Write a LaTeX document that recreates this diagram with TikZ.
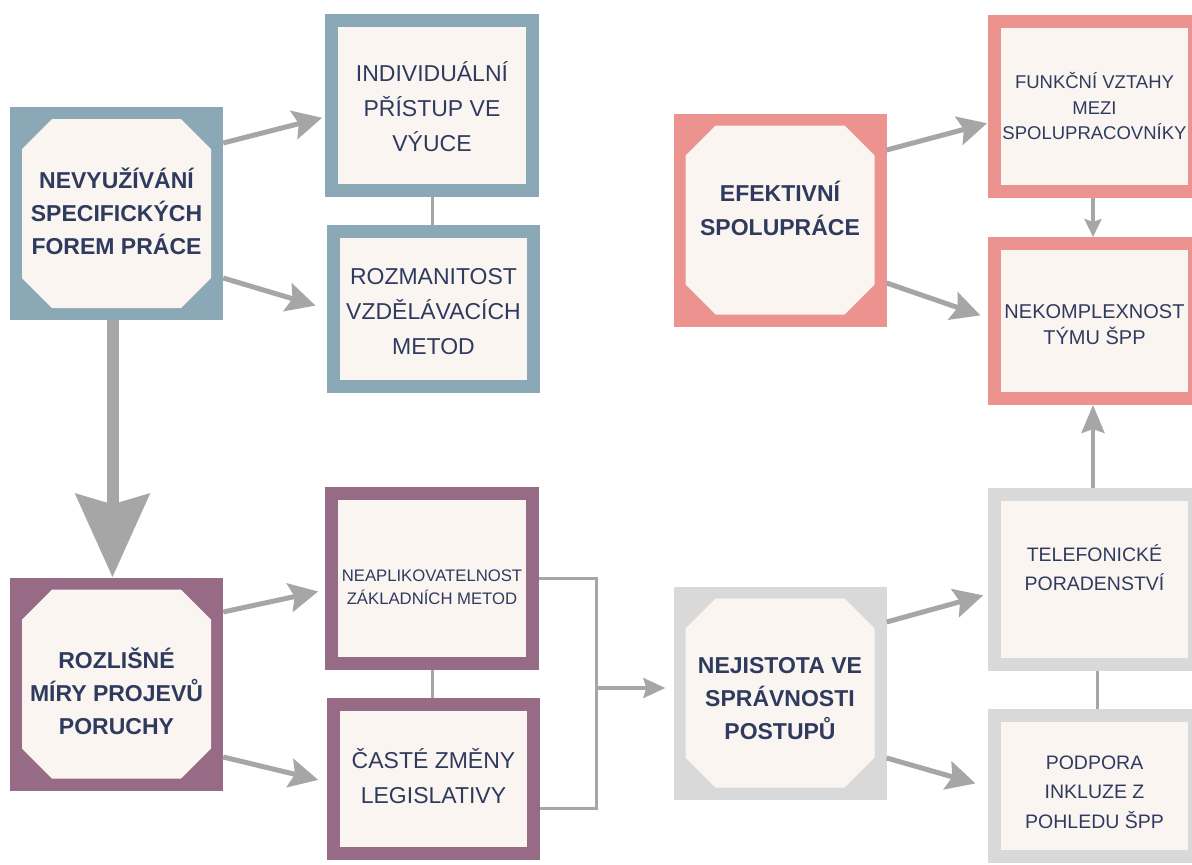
\documentclass[tikz,border=0pt]{standalone}
\usepackage{fontspec}
\setmainfont{Liberation Sans}
\usetikzlibrary{arrows.meta,calc}
\definecolor{cblue}{HTML}{8BA8B7}
\definecolor{cpurple}{HTML}{976A86}
\definecolor{cgray}{HTML}{D9D9D9}
\definecolor{cred}{HTML}{EC928F}
\definecolor{cream}{HTML}{FBF5F2}
\definecolor{navy}{HTML}{2F3B5E}
\definecolor{agray}{HTML}{A6A6A6}
\tikzset{
  octbox/.style={fill=#1, minimum width=213pt, minimum height=213pt, inner sep=0pt,
    path picture={\fill[cream]
      ([shift={(42pt,-12pt)}]path picture bounding box.north west) --
      ([shift={(-42pt,-12pt)}]path picture bounding box.north east) --
      ([shift={(-12pt,-42pt)}]path picture bounding box.north east) --
      ([shift={(-12pt,42pt)}]path picture bounding box.south east) --
      ([shift={(-42pt,12pt)}]path picture bounding box.south east) --
      ([shift={(42pt,12pt)}]path picture bounding box.south west) --
      ([shift={(12pt,42pt)}]path picture bounding box.south west) --
      ([shift={(12pt,-42pt)}]path picture bounding box.north west) -- cycle;}},
  sqbox/.style={draw=#1, fill=cream, line width=13pt, inner sep=0pt, minimum width=200pt},
  boldtxt/.style={text=navy, align=center, inner sep=0pt, font=\fontsize{23}{33}\selectfont\bfseries},
  regtxt/.style={text=navy, align=center, inner sep=0pt, font=\fontsize{23}{35}\selectfont},
  conn/.style={draw=agray, line width=3pt},
  arr/.style={draw=agray, line width=5pt, -{Stealth[length=29pt,width=29pt,inset=5pt]}},
  thinarr/.style={draw=agray, line width=3.5pt, -{Stealth[length=22pt,width=20pt,inset=3pt]}},
  smallarr/.style={draw=agray, line width=4pt, -{Stealth[length=18pt,width=17pt,inset=3pt]}},
  medarr/.style={draw=agray, line width=4pt, -{Stealth[length=28pt,width=23pt,inset=4pt]}},
  bigarr/.style={draw=agray, line width=12pt, -{Stealth[length=83pt,width=73pt,inset=10pt]}},
}
\begin{document}
\begin{tikzpicture}[x=1pt,y=-1pt]
\useasboundingbox (0,0) rectangle (1192,865);
\clip (0,0) rectangle (1192,865);
\fill[white] (0,0) rectangle (1192,865);

% left column
\node[octbox=cblue, label={[name=At, boldtxt, yshift=2pt]center:{NEVYUŽÍVÁNÍ\\SPECIFICKÝCH\\FOREM PRÁCE}}] (A) at (116.5,213.5) {};
\node[octbox=cpurple, label={[name=Ct, boldtxt, yshift=-7pt]center:{ROZLIŠNÉ\\MÍRY PROJEVŮ\\PORUCHY}}] (C) at (116.5,684) {};

% second column
\node[sqbox=cblue, minimum width=201pt, minimum height=170pt, label={[name=B1t, regtxt, yshift=-1pt]center:{INDIVIDUÁLNÍ\\PŘÍSTUP VE\\VÝUCE}}] (B1) at (432,105.5) {};
\node[sqbox=cblue, minimum height=155pt, label={[name=B2t, regtxt, yshift=-3pt]center:{ROZMANITOST\\VZDĚLÁVACÍCH\\METOD}}] (B2) at (433.5,309) {};
\node[sqbox=cpurple, minimum width=201pt, minimum height=170pt, label={[name=D1t, text=navy, align=center, inner sep=0pt, font=\fontsize{16.7}{23}\selectfont, yshift=-9pt]center:{NEAPLIKOVATELNOST\\ZÁKLADNÍCH METOD}}] (D1) at (432,578.5) {};
\node[sqbox=cpurple, minimum height=149pt, label={[name=D2t, regtxt, yshift=3pt]center:{ČASTÉ ZMĚNY\\LEGISLATIVY}}] (D2) at (433.5,779) {};

% third column
\node[octbox=cred, label={[name=Ft, text=navy, align=center, inner sep=0pt, font=\fontsize{23}{34}\selectfont\bfseries, yshift=12pt]center:{EFEKTIVNÍ\\SPOLUPRÁCE}}] (F) at (780,220) {};
\node[octbox=cgray, label={[name=Et, boldtxt, yshift=-6pt]center:{NEJISTOTA VE\\SPRÁVNOSTI\\POSTUPŮ}}] (E) at (780,693) {};

% fourth column
\node[sqbox=cred, minimum height=170pt, label={[name=G1t, text=navy, align=center, inner sep=0pt, font=\fontsize{18.5}{25.5}\selectfont]center:{FUNKČNÍ VZTAHY\\MEZI\\SPOLUPRACOVNÍKY}}] (G1) at (1094.5,106.5) {};
\node[sqbox=cred, minimum height=155pt, label={[name=G2t, text=navy, align=center, inner sep=0pt, font=\fontsize{20}{26}\selectfont, yshift=-4pt]center:{NEKOMPLEXNOST\\TÝMU ŠPP}}] (G2) at (1094.5,321) {};
\node[sqbox=cgray, minimum height=170pt, label={[name=H1t, text=navy, align=center, inner sep=0pt, font=\fontsize{19.5}{29}\selectfont, yshift=12pt]center:{TELEFONICKÉ\\PORADENSTVÍ}}] (H1) at (1094.5,579.5) {};
\node[sqbox=cgray, minimum height=141pt, label={[name=H2t, text=navy, align=center, inner sep=0pt, font=\fontsize{19.5}{29.5}\selectfont, yshift=-6pt]center:{PODPORA\\INKLUZE Z\\POHLEDU ŠPP}}] (H2) at (1094.5,786) {};

% connectors
\draw[bigarr] ([xshift=-4pt]A.south) -- ([xshift=-4pt]C.north);
\draw[arr, shorten >=3pt] ([yshift=70.5pt]A.east) -- ([yshift=-11.5pt]B1.west);
\draw[arr, shorten >=12pt] ([yshift=-64.5pt]A.east) -- (B2.west);
\draw[conn] (B1.south) -- (B1.south |- B2.north);

\draw[arr, shorten >=7pt] ([yshift=72pt]C.east) -- ([yshift=-11.5pt]D1.west);
\draw[arr, shorten >=9pt] ([yshift=-73pt]C.east) -- ([yshift=-3pt]D2.west);
\draw[conn] (D1.south) -- (D1.south |- D2.north);
\coordinate (m) at (596,688);
\draw[conn] (D1.east) -| (m) |- ([yshift=-29pt]D2.east);
\draw[thinarr, shorten >=8pt] (m) -- (m -| E.west);

\draw[arr, shorten >=1pt] ([yshift=70pt]F.east) -- ([yshift=-16.5pt]G1.west);
\draw[arr, shorten >=8pt] ([yshift=-63pt]F.east) -- ([yshift=3pt]G2.west);
\draw[arr, shorten >=5pt] ([yshift=71pt]E.east) -- ([yshift=-14.5pt]H1.west);
\draw[arr, shorten >=13pt] ([yshift=-65pt]E.east) -- ([yshift=-1pt]H2.west);

\draw[smallarr] ([xshift=-1.5pt]G1.south) -- ([xshift=-1.5pt]G2.north);
\draw[medarr] ([xshift=-1.5pt]H1.north) -- ([xshift=-1.5pt]G2.south);
\draw[conn] ([xshift=2.5pt]H1.south) -- ([xshift=2.5pt]H2.north);
\end{tikzpicture}
\end{document}
